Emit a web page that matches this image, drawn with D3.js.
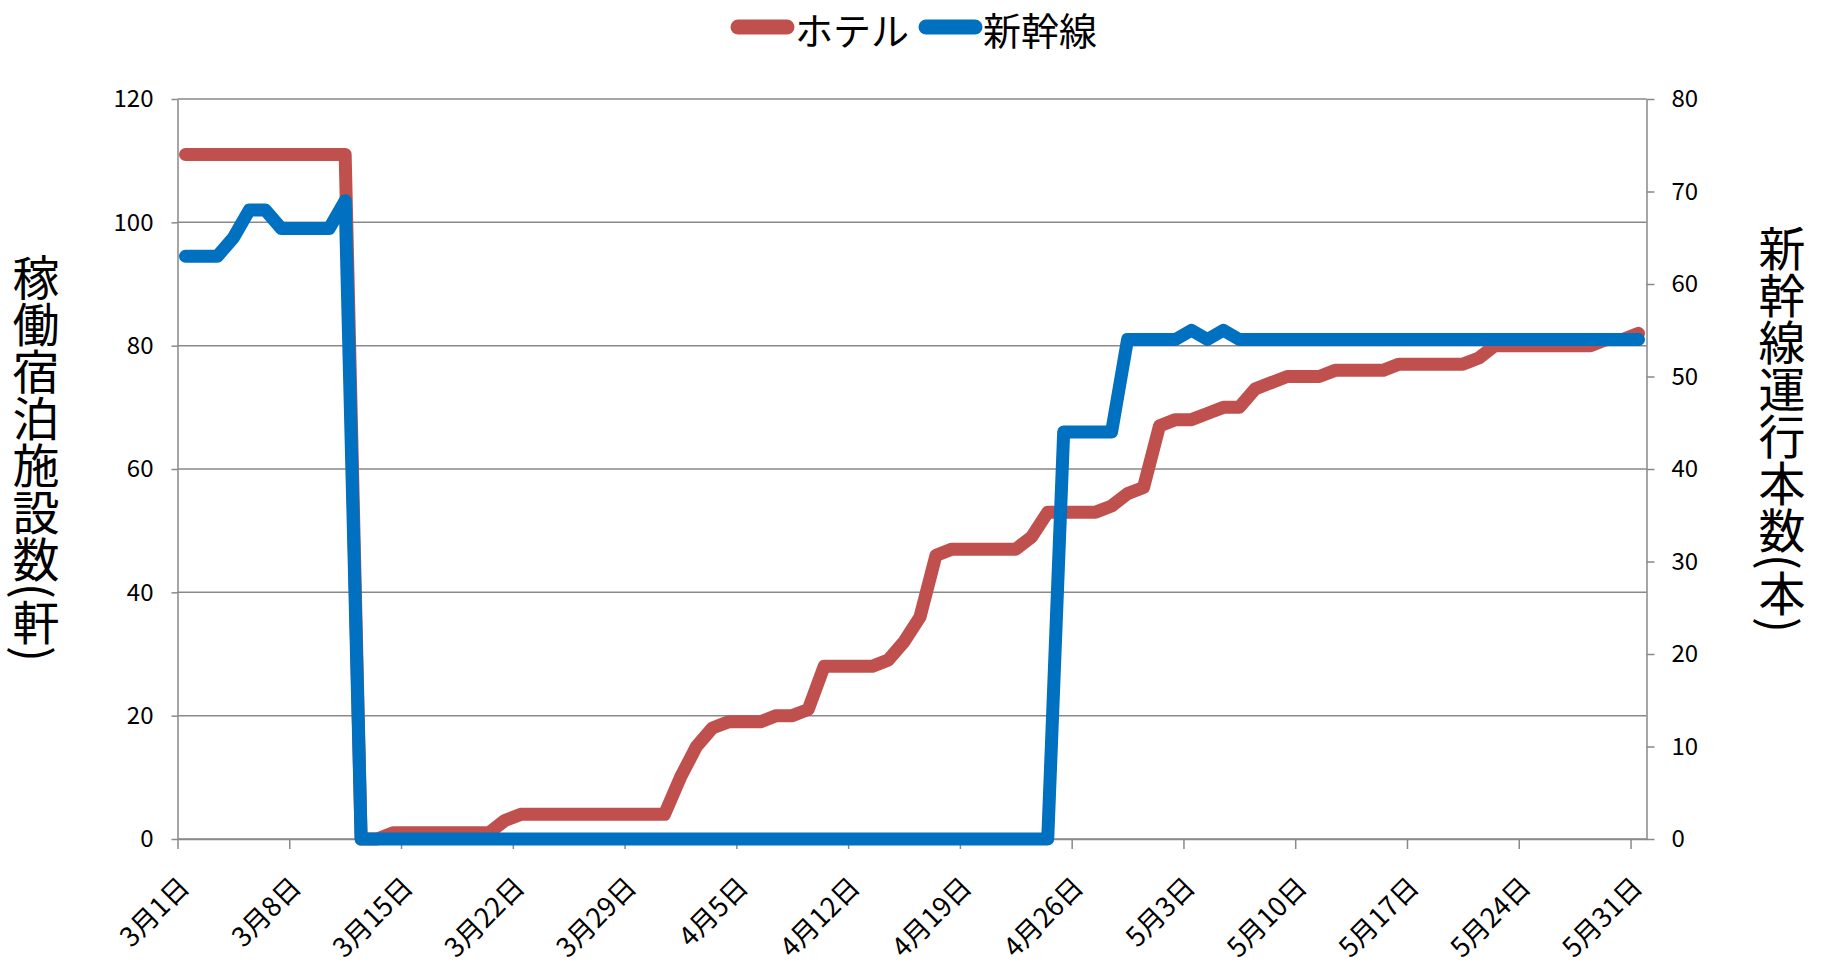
<!DOCTYPE html>
<html>
<head>
<meta charset="utf-8">
<script src="https://cdn.jsdelivr.net/npm/d3@7"></script>
<style>
  body { margin: 0; background: #fff; }
  .chart text { font-family: "Noto Sans CJK JP", "Noto Sans", sans-serif; fill: #000; }
</style>
</head>
<body>
<div id="chart"></div>
<script>
// one point a day, 3/1 .. 5/31 (2011)
var firstDay = '2011-03-01';
var dayAfterLast = '2011-06-01';

var seriesNames = ['ホテル', '新幹線'];

// 稼働宿泊施設数 (left axis)
var hotels = [
  111, 111, 111, 111, 111, 111, 111, 111, 111, 111, 111, // 3/1-3/11
  0, 0, 1, 1, 1, 1, 1, 1, 1, 3,                          // 3/12-3/21
  4, 4, 4, 4, 4, 4, 4, 4, 4, 4,                          // 3/22-3/31
  10, 15, 18, 19, 19, 19, 20, 20, 21, 28,                // 4/1-4/10
  28, 28, 28, 29, 32, 36, 46, 47, 47, 47,                // 4/11-4/20
  47, 47, 49, 53, 53, 53, 53, 54, 56, 57,                // 4/21-4/30
  67, 68, 68, 69, 70, 70, 73, 74, 75, 75,                // 5/1-5/10
  75, 76, 76, 76, 76, 77, 77, 77, 77, 77,                // 5/11-5/20
  78, 80, 80, 80, 80, 80, 80, 80, 81, 81,                // 5/21-5/30
  82                                                     // 5/31
];

// 新幹線運行本数 (right axis)
var shinkansen = [
  63, 63, 63, 65, 68, 68, 66, 66, 66, 66, 69,            // 3/1-3/11
  0, 0, 0, 0, 0, 0, 0, 0, 0, 0,                          // 3/12-3/21
  0, 0, 0, 0, 0, 0, 0, 0, 0, 0,                          // 3/22-3/31
  0, 0, 0, 0, 0, 0, 0, 0, 0, 0,                          // 4/1-4/10
  0, 0, 0, 0, 0, 0, 0, 0, 0, 0,                          // 4/11-4/20
  0, 0, 0, 0, 44, 44, 44, 44, 54, 54,                    // 4/21-4/30
  54, 54, 55, 54, 55, 54, 54, 54, 54, 54,                // 5/1-5/10
  54, 54, 54, 54, 54, 54, 54, 54, 54, 54,                // 5/11-5/20
  54, 54, 54, 54, 54, 54, 54, 54, 54, 54,                // 5/21-5/30
  54                                                     // 5/31
];

var leftTicks = [0, 20, 40, 60, 80, 100, 120];
var rightTicks = [0, 10, 20, 30, 40, 50, 60, 70, 80];
var xTickLabels = ['3月1日', '3月8日', '3月15日', '3月22日', '3月29日', '4月5日',
  '4月12日', '4月19日', '4月26日', '5月3日', '5月10日', '5月17日', '5月24日', '5月31日'];

var leftTitle = '稼働宿泊施設数(軒)';
var rightTitle = '新幹線運行本数(本)';

var colors = { hotel: '#C0504D', shinkansen: '#0070C0', grid: '#898989' };

var fullWidth = 1823;
var fullHeight = 964;
var margins = { top: 99, right: 176.5, bottom: 125, left: 177.5 };
var width = fullWidth - margins.left - margins.right;
var height = fullHeight - margins.top - margins.bottom;

var parseDay = d3.utcParse('%Y-%m-%d');
var days = d3.utcDay.range(parseDay(firstDay), parseDay(dayAfterLast));
var tickDates = xTickLabels.map(function(l) {
  return d3.utcParse('%Y年%m月%d日')('2011年' + l);
});

var xScale = d3.scaleUtc()
  .domain([parseDay(firstDay), parseDay(dayAfterLast)])
  .range([0, width]);
var yLeft = d3.scaleLinear().domain([0, 120]).range([height, 0]);
var yRight = d3.scaleLinear().domain([0, 80]).range([height, 0]);

// points sit in the middle of each day's slot
function xMid(d) {
  return xScale(d3.utcHour.offset(d, 12));
}

var container = d3.select('#chart').append('svg')
  .attr('class', 'chart')
  .attr('width', fullWidth)
  .attr('height', fullHeight);

var svg = container.append('g')
  .attr('transform', `translate(${margins.left},${margins.top})`);

// gridlines
svg.append('g')
  .selectAll('line')
  .data(leftTicks)
  .join('line')
  .attr('x1', 0)
  .attr('x2', width)
  .attr('y1', d => yLeft(d))
  .attr('y2', d => yLeft(d))
  .attr('stroke', colors.grid)
  .attr('stroke-width', 1.5);

function styleAxis(g) {
  g.selectAll('path, line').attr('stroke', colors.grid).attr('stroke-width', 1.5);
  g.attr('font-family', null).attr('font-size', null);
  g.selectAll('text').style('font-size', '24px');
}

// left axis
svg.append('g')
  .call(d3.axisLeft(yLeft).tickValues(leftTicks).tickSizeInner(6).tickSizeOuter(0).tickPadding(18))
  .call(styleAxis);

// right axis
svg.append('g')
  .attr('transform', `translate(${width},0)`)
  .call(d3.axisRight(yRight).tickValues(rightTicks).tickSizeInner(8).tickSizeOuter(0).tickPadding(17))
  .call(styleAxis);

// x axis, labels rotated
var xAxis = d3.axisBottom(xScale)
  .tickValues(tickDates)
  .tickFormat((d, i) => xTickLabels[i])
  .tickSizeInner(10)
  .tickSizeOuter(0);

svg.append('g')
  .attr('transform', `translate(0,${height})`)
  .call(xAxis)
  .call(styleAxis)
  .selectAll('text')
  .attr('y', 0)
  .attr('dy', 0)
  .style('font-size', '27px')
  .style('text-anchor', 'end')
  .attr('transform', 'translate(13,50) rotate(-45)');

// series lines
var line = d3.line()
  .x((d, i) => xMid(days[i]));

svg.append('path')
  .datum(hotels)
  .attr('fill', 'none')
  .attr('stroke', colors.hotel)
  .attr('stroke-width', 13)
  .attr('stroke-linejoin', 'round')
  .attr('stroke-linecap', 'round')
  .attr('d', line.y(d => yLeft(d)));

svg.append('path')
  .datum(shinkansen)
  .attr('fill', 'none')
  .attr('stroke', colors.shinkansen)
  .attr('stroke-width', 13)
  .attr('stroke-linejoin', 'round')
  .attr('stroke-linecap', 'round')
  .attr('d', line.y(d => yRight(d)));

// axis titles, vertical writing
container.append('text')
  .attr('x', 36)
  .attr('y', 458)
  .style('writing-mode', 'vertical-rl')
  .style('text-anchor', 'middle')
  .style('font-size', '47px')
  .text(leftTitle);

container.append('text')
  .attr('x', 1782)
  .attr('y', 429)
  .style('writing-mode', 'vertical-rl')
  .style('text-anchor', 'middle')
  .style('font-size', '47px')
  .text(rightTitle);

// legend
var legendItems = [
  { name: seriesNames[0], color: colors.hotel, x: 738 },
  { name: seriesNames[1], color: colors.shinkansen, x: 926 }
];
var legend = container.append('g');
legendItems.forEach(function(item) {
  legend.append('line')
    .attr('x1', item.x)
    .attr('x2', item.x + 49)
    .attr('y1', 27)
    .attr('y2', 27)
    .attr('stroke', item.color)
    .attr('stroke-width', 15)
    .attr('stroke-linecap', 'round');
  legend.append('text')
    .attr('x', item.x + 57)
    .attr('y', 28)
    .attr('dominant-baseline', 'central')
    .style('font-size', '38px')
    .text(item.name);
});
</script>
</body>
</html>
